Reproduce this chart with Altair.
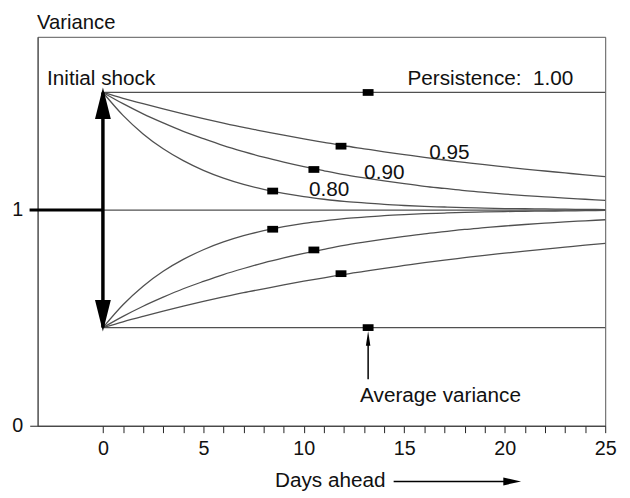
import altair as alt
import pandas as pd

FONT = "Liberation Sans"

# ---- data ----
days = list(range(26))
# remaining shock (variance - 1) for each persistence, read at each day
dev_095 = [0.545, 0.518, 0.493, 0.469, 0.446, 0.424, 0.403, 0.383, 0.365, 0.347,
           0.330, 0.314, 0.298, 0.284, 0.270, 0.257, 0.244, 0.232, 0.221, 0.210,
           0.200, 0.190, 0.181, 0.172, 0.163, 0.155]
dev_090 = [0.545, 0.493, 0.446, 0.404, 0.365, 0.331, 0.299, 0.271, 0.245, 0.222,
           0.201, 0.182, 0.164, 0.149, 0.135, 0.122, 0.110, 0.100, 0.090, 0.082,
           0.074, 0.067, 0.061, 0.055, 0.050, 0.045]
dev_080 = [0.545, 0.439, 0.353, 0.284, 0.229, 0.184, 0.148, 0.119, 0.096, 0.077,
           0.062, 0.050, 0.040, 0.033, 0.026, 0.021, 0.017, 0.014, 0.011, 0.009,
           0.007, 0.006, 0.005, 0.004, 0.003, 0.002]
persistence = ["0.95", "0.90", "0.80"]
devs = [dev_095, dev_090, dev_080]

flat_levels = [1.545, 1.0, 0.455]          # persistence 1.00 (up/down) and average variance
flat_start, flat_end = 0, 25
pre_level = 1.0
pre_start, pre_end = -3.65, 0

marker_x = [8.45, 10.5, 11.85, 13.2, 8.45, 10.5, 11.85, 13.2]
marker_y = [1.088, 1.188, 1.296, 1.545, 0.911, 0.815, 0.705, 0.455]

label_text = ["Initial shock", "Persistence:\u00a0 1.00", "0.95", "0.90", "0.80", "Average variance"]
label_x = [-2.78, 15.16, 16.24, 13.0, 10.26, 12.8]
label_y = [1.578, 1.578, 1.236, 1.143, 1.065, 0.1085]

shock_top, shock_bottom = 1.545, 0.455
avg_arrow_x = 13.2
avg_arrow_y = [0.374, 0.215]
days_arrow_x = [14.47, 20.2]
days_arrow_tip_x = 20.37
days_arrow_y = -0.258

x_ticks = list(range(0, 26))
y_ticks = [0, 1]

# ---- tables ----
rows = []
for p, d in zip(persistence, devs):
    for t, v in zip(days, d):
        rows.append({"day": t, "variance": 1 + v, "series": p + " up"})
        rows.append({"day": t, "variance": 1 - v, "series": p + " down"})
curves = pd.DataFrame(rows)
flats = pd.DataFrame({"y": flat_levels, "x": [flat_start] * 3, "x2": [flat_end] * 3})
pre = pd.DataFrame({"y": [pre_level], "x": [pre_start], "x2": [pre_end]})
markers = pd.DataFrame({"x": marker_x, "y": marker_y})
labels = pd.DataFrame({"x": label_x, "y": label_y, "text": label_text})

xs = alt.Scale(domain=[-3.25, 25], nice=False, zero=False)
ys = alt.Scale(domain=[0, 1.803], nice=False, zero=False)

x_axis = alt.Axis(values=x_ticks, labelExpr="datum.value % 5 === 0 ? datum.label : ''",
                  labelOverlap=False, labelBound=False,
                  tickSize=7, tickColor="#222", domainColor="#333", grid=False,
                  labelFont=FONT, labelFontSize=20, labelColor="#111", labelPadding=6,
                  labelFlush=False,
                  title="Days ahead", titleFont=FONT, titleFontSize=21, titleFontWeight="normal",
                  titleColor="#111", titleX=240, titleY=62, titleAlign="left",
                  titleBaseline="alphabetic", titleAnchor="start")
y_axis = alt.Axis(values=y_ticks, format="d", tickSize=8, tickColor="#222", domainColor="#444",
                  labelOverlap=False,
                  grid=False, labelFont=FONT, labelFontSize=20, labelColor="#111", labelPadding=7,
                  title="Variance", titleFont=FONT, titleFontSize=20.5, titleFontWeight="normal",
                  titleColor="#111", titleAngle=0, titleX=-1, titleY=-8, titleAlign="left",
                  titleBaseline="alphabetic", titleAnchor="start")


def XE(field):
    return alt.X(field, scale=xs, axis=x_axis)


def YE(field):
    return alt.Y(field, scale=ys, axis=y_axis)


lines = alt.Chart(curves).mark_line(color="#505050", strokeWidth=1.3, interpolate="monotone").encode(
    x=XE("day:Q"), y=YE("variance:Q"), detail="series:N")

flat_rules = alt.Chart(flats).mark_rule(color="#505050", strokeWidth=1.3).encode(
    x=XE("x:Q"), x2="x2:Q", y=YE("y:Q"))

pre_rule = alt.Chart(pre).mark_rule(color="#000", strokeWidth=3.2).encode(
    x=XE("x:Q"), x2="x2:Q", y=YE("y:Q"))

shaft = alt.Chart(pd.DataFrame({"x": [0], "y": [shock_bottom], "y2": [shock_top]})).mark_rule(
    color="#000", strokeWidth=3.5).encode(x=XE("x:Q"), y=YE("y:Q"), y2="y2:Q")

head_up = alt.Chart(pd.DataFrame({"x": [0], "y": [shock_top]})).mark_point(
    shape="M0,-1L0.5,1L-0.5,1Z", size=1024, filled=True, color="#000", opacity=1, yOffset=11,
    strokeWidth=0).encode(x=XE("x:Q"), y=YE("y:Q"))
head_down = alt.Chart(pd.DataFrame({"x": [0], "y": [shock_bottom]})).mark_point(
    shape="M0,1L0.5,-1L-0.5,-1Z", size=1024, filled=True, color="#000", opacity=1, yOffset=-12,
    strokeWidth=0).encode(x=XE("x:Q"), y=YE("y:Q"))

marks = alt.Chart(markers).mark_point(
    shape="M-1,-0.62L1,-0.62L1,0.62L-1,0.62Z", size=121, filled=True, color="#000", opacity=1,
    strokeWidth=0).encode(x=XE("x:Q"), y=YE("y:Q"))

texts = alt.Chart(labels).mark_text(font=FONT, fontSize=21, color="#111", align="left",
                                    baseline="alphabetic").encode(
    x=XE("x:Q"), y=YE("y:Q"), text="text:N")

avg_shaft = alt.Chart(pd.DataFrame({"x": [avg_arrow_x], "y": [avg_arrow_y[0]], "y2": [avg_arrow_y[1]]})).mark_rule(
    color="#000", strokeWidth=1.5).encode(x=XE("x:Q"), y=YE("y:Q"), y2="y2:Q")
avg_head = alt.Chart(pd.DataFrame({"x": [avg_arrow_x], "y": [flat_levels[2]]})).mark_point(
    shape="M0,-1L0.3,1L-0.3,1Z", size=225, filled=True, color="#000", opacity=1, yOffset=11,
    strokeWidth=0).encode(x=XE("x:Q"), y=YE("y:Q"))

days_shaft = alt.Chart(pd.DataFrame({"x": [days_arrow_x[0]], "x2": [days_arrow_x[1]], "y": [days_arrow_y]})).mark_rule(
    color="#000", strokeWidth=1.5).encode(x=XE("x:Q"), x2="x2:Q", y=YE("y:Q"))
days_head = alt.Chart(pd.DataFrame({"x": [days_arrow_tip_x], "y": [days_arrow_y]})).mark_point(
    shape="M1,0L-1,0.45L-1,-0.45Z", size=324, filled=True, color="#000", opacity=1,
    strokeWidth=0).encode(x=XE("x:Q"), y=YE("y:Q"))

chart = alt.layer(
    lines, flat_rules, pre_rule, shaft, head_up, head_down, marks, texts,
    avg_shaft, avg_head, days_shaft, days_head
).properties(
    width=575, height=394,
    autosize=alt.AutoSizeParams(type="none"),
    padding={"left": 30, "top": 26, "right": 17, "bottom": 70},
    background="white",
).configure_view(stroke="#555", strokeWidth=1)

chart.save("out.html", embed_options={"renderer": "svg", "actions": False})
